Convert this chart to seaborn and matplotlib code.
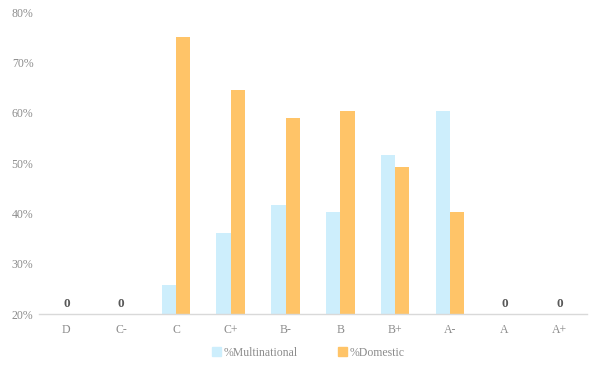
import numpy as np
import pandas as pd
import matplotlib
matplotlib.use("Agg")
import matplotlib.pyplot as plt
import seaborn as sns

# data (percent)
grades = ["D", "C-", "C", "C+", "B-", "B", "B+", "A-", "A", "A+"]
multinational = [0, 0, 25.8, 36.1, 41.7, 40.3, 51.6, 60.4, 0, 0]
domestic = [0, 0, 75.0, 64.5, 59.0, 60.4, 49.2, 40.3, 0, 0]
series_names = ["%Multinational", "%Domestic"]
colors = ["#CDEEFC", "#FFC468"]

df = pd.DataFrame({
    "grade": grades * 2,
    "value": multinational + domestic,
    "series": [series_names[0]] * len(grades) + [series_names[1]] * len(grades),
})

sns.set_theme(style="white")
plt.rcParams["font.family"] = ["Liberation Serif", "DejaVu Serif"]

fig = plt.figure(figsize=(6, 3.67), dpi=100)
ax = fig.add_axes([0.065, 0.144, 0.913, 0.823])

sns.barplot(data=df, x="grade", y="value", hue="series", order=grades,
            hue_order=series_names, palette=colors, width=0.52,
            saturation=1, linewidth=0, ax=ax, legend=False)

ax.set_ylim(20, 80)
ax.set_yticks(np.arange(20, 81, 10))
ax.set_yticklabels([f"{t}%" for t in range(20, 81, 10)])
ax.set_xlabel("")
ax.set_ylabel("")
ax.tick_params(axis="both", length=0, colors="#8c8c8c", labelsize=8.5)
ax.tick_params(axis="x", pad=7)
ax.tick_params(axis="y", pad=4)
for s in ["top", "right", "left"]:
    ax.spines[s].set_visible(False)
ax.spines["bottom"].set_color("#d9d9d9")
ax.spines["bottom"].set_linewidth(1.0)

# "0" labels where both series are empty
for i, g in enumerate(grades):
    if multinational[i] == 0 and domestic[i] == 0:
        ax.text(i, 20.8, "0", ha="center", va="bottom", fontsize=9.5,
                fontweight="bold", color="#595959")

handles = [plt.Rectangle((0, 0), 1, 1, color=c) for c in colors]
fig.legend(handles, series_names, loc="center", bbox_to_anchor=(0.514, 0.038),
           ncol=2, frameon=False, fontsize=8.5, handlelength=0.8,
           handleheight=0.8, handletextpad=0.2, columnspacing=3.4,
           labelcolor="#8c8c8c")

fig.savefig("out.png", dpi=100)
